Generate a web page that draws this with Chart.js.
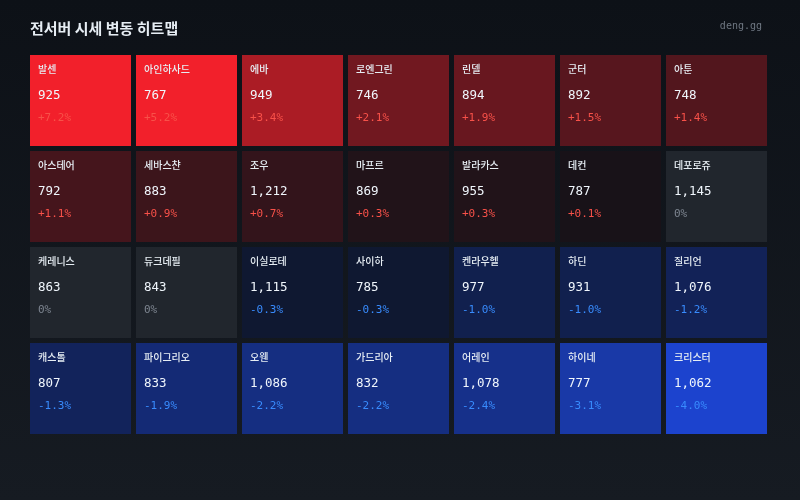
<!DOCTYPE html>
<html>
<head>
<meta charset="utf-8">
<script src="https://cdn.jsdelivr.net/npm/chart.js@4"></script>
<style>
  html, body { margin: 0; padding: 0; background: #0d1117; }
  #wrap { width: 800px; height: 500px; position: relative; }
</style>
</head>
<body>
<div id="wrap"><canvas id="heat"></canvas></div>
<script>
// Server price heatmap data (row-major, 7 per row)
const servers = ['발센', '아인하사드', '에바', '로엔그린', '린델', '군터', '아툰',
  '아스테어', '세바스챤', '조우', '마프르', '발라카스', '데컨', '데포로쥬',
  '케레니스', '듀크데필', '이실로테', '사이하', '켄라우헬', '하딘', '질리언',
  '캐스톨', '파이그리오', '오웬', '가드리아', '어레인', '하이네', '크리스터'];
const prices = [925, 767, 949, 746, 894, 892, 748,
  792, 883, 1212, 869, 955, 787, 1145,
  863, 843, 1115, 785, 977, 931, 1076,
  807, 833, 1086, 832, 1078, 777, 1062];
const changes = [7.2, 5.2, 3.4, 2.1, 1.9, 1.5, 1.4,
  1.1, 0.9, 0.7, 0.3, 0.3, 0.1, 0,
  0, 0, -0.3, -0.3, -1.0, -1.0, -1.2,
  -1.3, -1.9, -2.2, -2.2, -2.4, -3.1, -4.0];
const columns = ['1', '2', '3', '4', '5', '6', '7'];

const COLS = columns.length;
const ROWS = Math.ceil(servers.length / COLS);

// Color scale: dark base -> red (up) / blue (down), gray for no change
function mix(a, b, t) {
  return a.map((v, i) => Math.round(v + (b[i] - v) * t));
}
function cellColor(chg) {
  if (chg === 0) return '#21262d';
  const t = Math.min(Math.abs(chg) / 5, 1);
  const c = chg > 0
    ? mix([20, 18, 24], [242, 32, 43], t)
    : mix([14, 20, 36], [31, 79, 248], t);
  return `rgb(${c[0]}, ${c[1]}, ${c[2]})`;
}
function changeText(chg) {
  if (chg === 0) return '0%';
  return (chg > 0 ? '+' : '') + chg.toFixed(1) + '%';
}
function changeColor(chg) {
  if (chg === 0) return '#7d8590';
  return chg > 0 ? '#f85149' : '#388bfd';
}

const gap = 0.026;
const datasets = [];
for (let r = 0; r < ROWS; r++) {
  const idx = columns.map((c, i) => r * COLS + i);
  datasets.push({
    label: 'row' + r,
    data: idx.map(() => [r + gap, r + 1 - gap]),
    backgroundColor: idx.map(i => cellColor(changes[i])),
    borderWidth: 0,
    borderSkipped: false,
    grouped: false,
    categoryPercentage: 1,
    barPercentage: 101 / 106,
    cellIndex: idx
  });
}

const backdrop = {
  id: 'backdrop',
  beforeDraw(chart) {
    const { ctx, width, height } = chart;
    const g = ctx.createLinearGradient(0, 0, 0, height);
    g.addColorStop(0, '#0d1117');
    g.addColorStop(1, '#161b22');
    ctx.save();
    ctx.fillStyle = g;
    ctx.fillRect(0, 0, width, height);
    // header
    ctx.textBaseline = 'middle';
    ctx.fillStyle = '#e6edf3';
    ctx.font = 'bold 15px "Noto Sans CJK KR", sans-serif';
    ctx.textAlign = 'left';
    ctx.fillText('전서버 시세 변동 히트맵', 30, 28);
    ctx.fillStyle = '#6e7681';
    ctx.font = '10px "DejaVu Sans Mono", monospace';
    ctx.textAlign = 'right';
    ctx.fillText('deng.gg', 762, 26);
    ctx.restore();
  }
};

// Cell labels: server name, price, change
const cellLabels = {
  id: 'cellLabels',
  afterDatasetsDraw(chart) {
    const ctx = chart.ctx;
    ctx.save();
    ctx.textAlign = 'left';
    ctx.textBaseline = 'middle';
    chart.data.datasets.forEach((ds, di) => {
      const meta = chart.getDatasetMeta(di);
      meta.data.forEach((bar, j) => {
        const i = ds.cellIndex[j];
        const left = bar.x - bar.width / 2 + 8;
        const top = Math.min(bar.y, bar.base);
        ctx.fillStyle = '#e6edf3';
        ctx.font = '500 10px "Noto Sans CJK KR", sans-serif';
        ctx.fillText(servers[i], left, top + 14.5);
        ctx.font = '12.5px "DejaVu Sans Mono", monospace';
        ctx.fillStyle = '#f0f6fc';
        ctx.fillText(prices[i].toLocaleString('en-US'), left, top + 40.5);
        ctx.font = '11px "DejaVu Sans Mono", monospace';
        ctx.fillStyle = changeColor(changes[i]);
        ctx.fillText(changeText(changes[i]), left, top + 63);
      });
    });
    ctx.restore();
  }
};

new Chart(document.getElementById('heat'), {
  type: 'bar',
  data: { labels: columns, datasets: datasets },
  options: {
    responsive: true,
    maintainAspectRatio: false,
    animation: false,
    layout: { padding: { top: 52.5, left: 27.5, right: 30.5, bottom: 63.5 } },
    plugins: {
      legend: { display: false },
      title: { display: false },
      tooltip: { enabled: false }
    },
    scales: {
      x: { display: false, offset: true },
      y: { display: false, min: 0, max: ROWS, reverse: true }
    }
  },
  plugins: [backdrop, cellLabels]
});
</script>
</body>
</html>
